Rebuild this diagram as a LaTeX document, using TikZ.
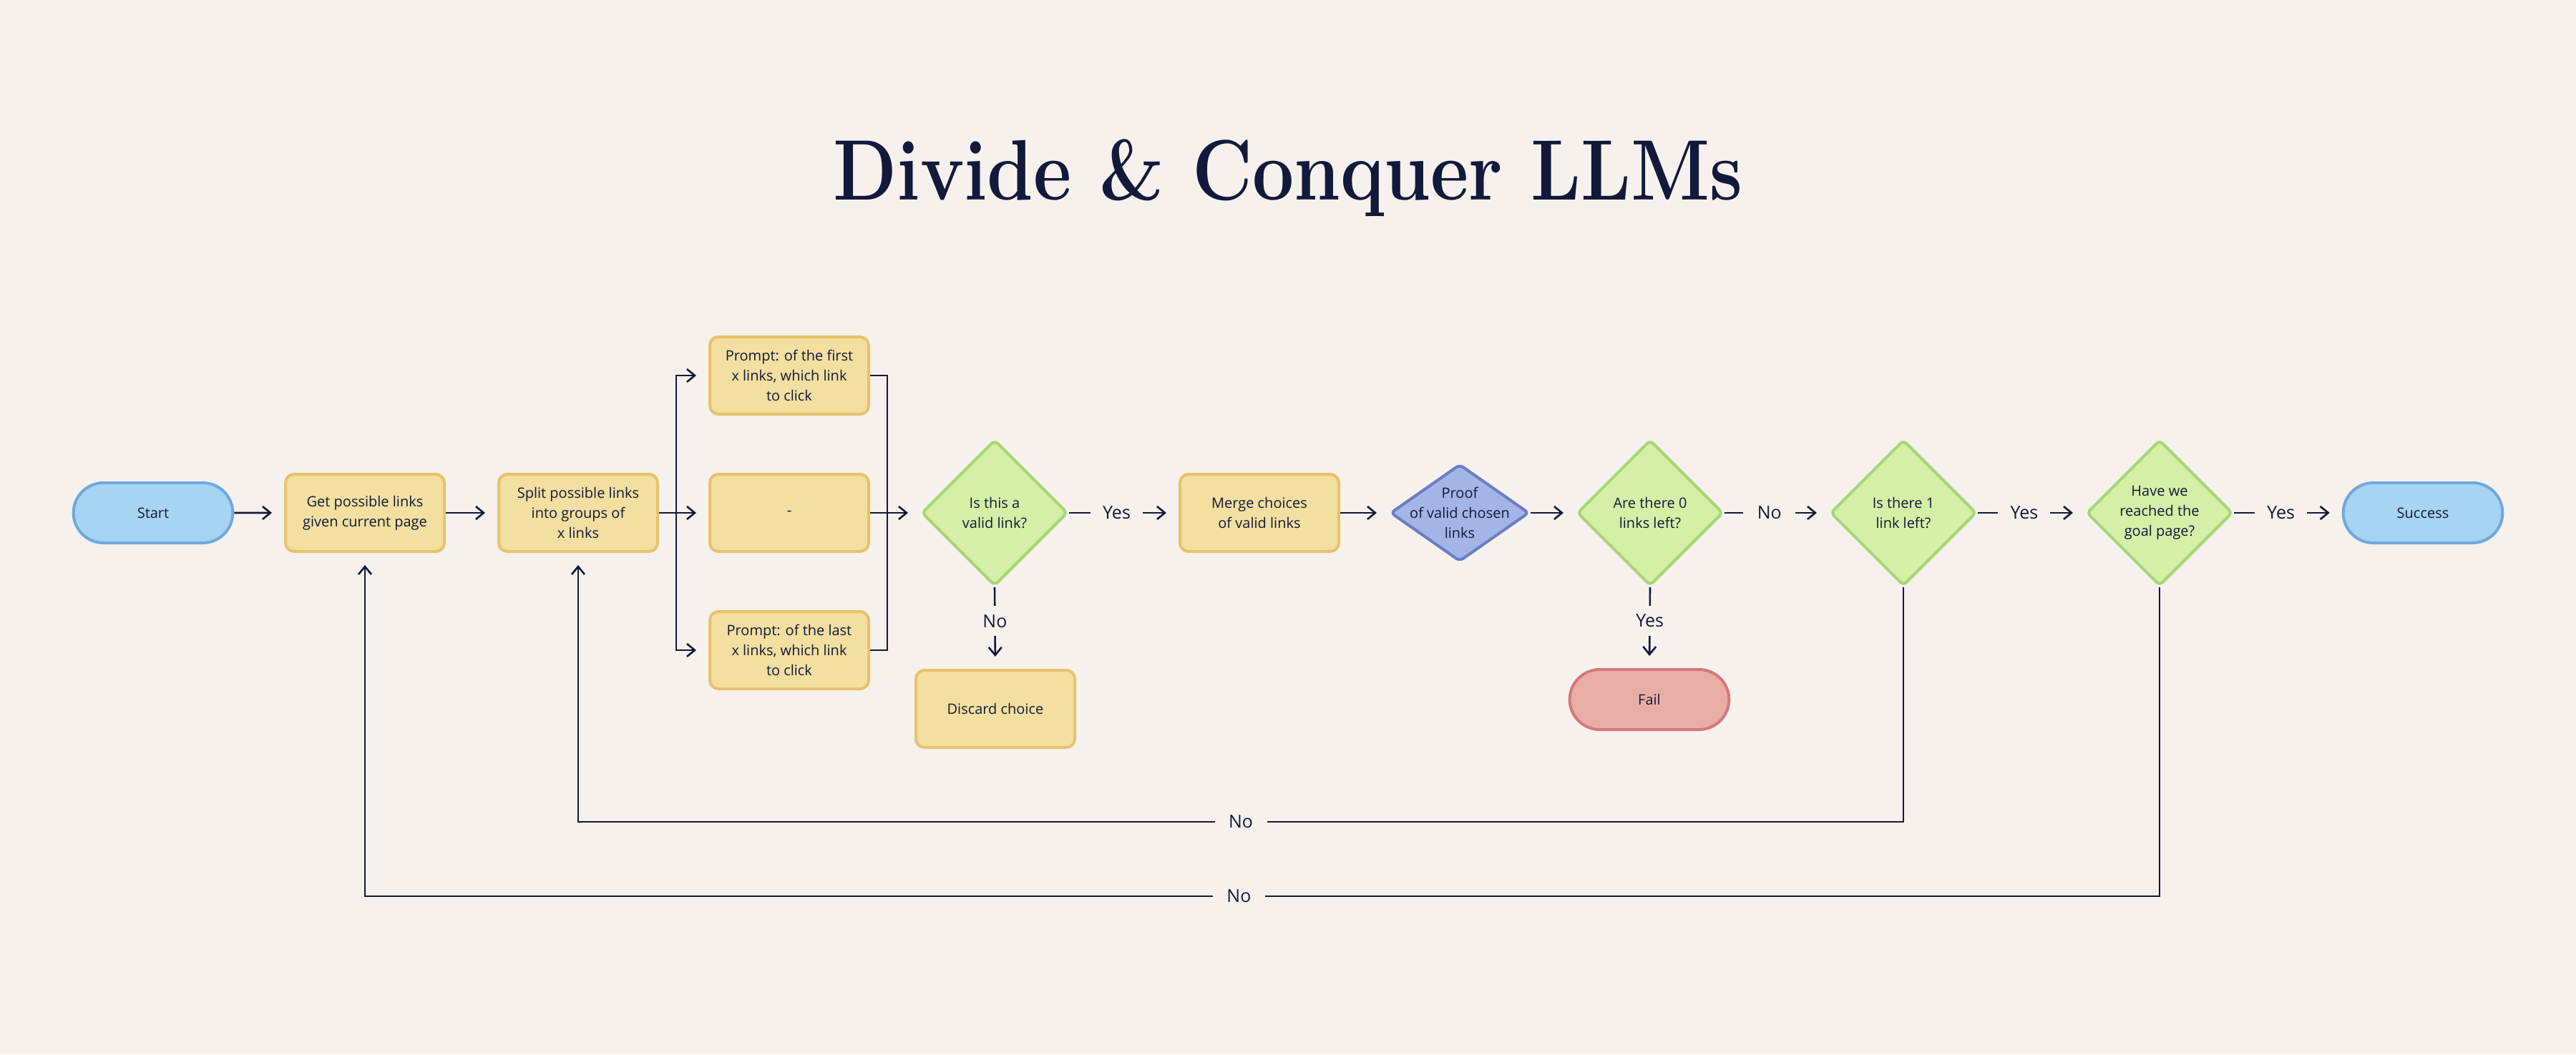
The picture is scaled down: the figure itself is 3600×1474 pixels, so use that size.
\documentclass[tikz,border=0pt]{standalone}
\usepackage{fontspec}
\newfontfamily\osans{Open Sans}
\usetikzlibrary{shapes.geometric,shapes.misc,arrows.meta}
\definecolor{bg}{HTML}{F6F1ED}
\definecolor{ink}{HTML}{111A3B}
\definecolor{yelF}{HTML}{F3DF9F}
\definecolor{yelB}{HTML}{E6C36B}
\definecolor{bluF}{HTML}{A6D4F2}
\definecolor{bluB}{HTML}{70A9DC}
\definecolor{grnF}{HTML}{D5EFA6}
\definecolor{grnB}{HTML}{A6D673}
\definecolor{purF}{HTML}{A3B4E6}
\definecolor{purB}{HTML}{6B7DC4}
\definecolor{redF}{HTML}{E8AEA6}
\definecolor{redB}{HTML}{D4787A}
\begin{document}
\begin{tikzpicture}[x=0.5pt,y=-0.5pt,
  txt/.style={font=\osans\fontsize{10}{14}\selectfont, text=ink, align=center},
  box/.style={txt, rectangle, rounded corners=6pt, draw=yelB, fill=yelF, line width=2pt, minimum width=111pt, minimum height=54pt, inner sep=2pt},
  term/.style={txt, rounded rectangle, draw=#1B, fill=#1F, line width=2pt, minimum width=118pt, minimum height=42pt},
  dia/.style={diamond, draw=grnB, fill=grnF, line width=2pt, rounded corners=3pt, minimum width=102pt, minimum height=102pt, inner sep=0pt},
  conn/.style={draw=ink, line width=1.3pt},
  arr/.style={conn, -{Straight Barb[length=5.5pt,width=9pt]}, shorten >=8.5pt},
  lblh/.style={font=\osans\fontsize{12.5}{15}\selectfont, text=ink, fill=bg, minimum width=36.5pt, inner xsep=0pt, inner ysep=2pt},
  lblv/.style={font=\osans\fontsize{12.5}{15}\selectfont, text=ink, fill=bg, minimum height=21pt, inner ysep=0pt, inner xsep=2pt},
]
\fill[bg] (0,0) rectangle (3600,1474);
\useasboundingbox (0,0) rectangle (3600,1474);

\node[font=\bfseries\fontsize{60}{60}\selectfont, text=ink, anchor=base] (title) at (1800,279) {\scalebox{0.863}[1]{Divide \& Conquer LLMs}};

\node[term=blu] (start) at (214,717) {Start};
\node[box] (get) at (510,717) {Get possible links\\given current page};
\node[box] (split) at (808,717) {Split possible links\\into groups of\\x links};
\node[box] (p1) at (1103,525) {Prompt: of the first\\x links, which link\\to click};
\node[box] (pm) at (1103,717) {-};
\node[box] (p3) at (1103,909) {Prompt: of the last\\x links, which link\\to click};
\node[dia] (d1) at (1390,717) {};
\node[txt] (d1t) at (d1) {Is this a\\valid link?};
\node[box] (disc) at (1391,991) {Discard choice};
\node[box] (merge) at (1760,717) {Merge choices\\of valid links};
\node[dia, draw=purB, fill=purF, minimum width=97pt, minimum height=68pt] (proof) at (2040,717) {};
\node[txt] (prooft) at (proof) {Proof\\of valid chosen\\links};
\node[dia] (d0) at (2306,717) {};
\node[txt] (d0t) at (d0) {Are there 0\\links left?};
\node[term=red] (fail) at (2305,978) {Fail};
\node[dia] (d1l) at (2660,717) {};
\node[txt] (d1lt) at (d1l) {Is there 1\\link left?};
\node[dia] (goal) at (3018,717) {};
\node[txt] (goalt) at (goal) {Have we\\reached the\\goal page?};
\node[term=blu] (succ) at (3386,717) {Success};

\draw[arr] (start) -- (get);
\draw[arr] (get) -- (split);
\draw[arr] (split.east) -- (pm.west);
\path (split.east) ++(24,0) coordinate (br);
\draw[arr] (br) |- (p1.west);
\draw[arr] (br) |- (p3.west);
\path (p1.east) ++(24,0) coordinate (mg);
\draw[conn] (p1.east) -- (mg) -- (mg |- p3.east) -- (p3.east);
\draw[arr] (pm.east) -- (d1.west);
\draw[arr] (d1.east) -- node[lblh, pos=0.435] (y1) {Yes} (merge.west);
\draw[arr] (d1.south) -- node[lblv, pos=0.415] (n1) {No} (disc.north);
\draw[arr] (merge.east) -- (proof.west);
\draw[arr] (proof.east) -- (d0.west);
\draw[arr] (d0.east) -- node[lblh, pos=0.43] (n2) {No} (d1l.west);
\draw[arr] (d0.south) -- node[lblv, pos=0.415] (y2) {Yes} (fail.north);
\draw[arr] (d1l.east) -- node[lblh, pos=0.433] (y3) {Yes} (goal.west);
\draw[arr] (goal.east) -- node[lblh, pos=0.436] (y4) {Yes} (succ.west);

\coordinate (yb1) at (0,1149);
\coordinate (yb2) at (0,1253);
\draw[arr] (d1l.south) -- (d1l.south |- yb1) -- node[lblh] (n3) {No} (split.south |- yb1) -- (split.south);
\draw[arr] (goal.south) -- (goal.south |- yb2) -- node[lblh, pos=0.513] (n4) {No} (get.south |- yb2) -- (get.south);
\end{tikzpicture}
\end{document}
